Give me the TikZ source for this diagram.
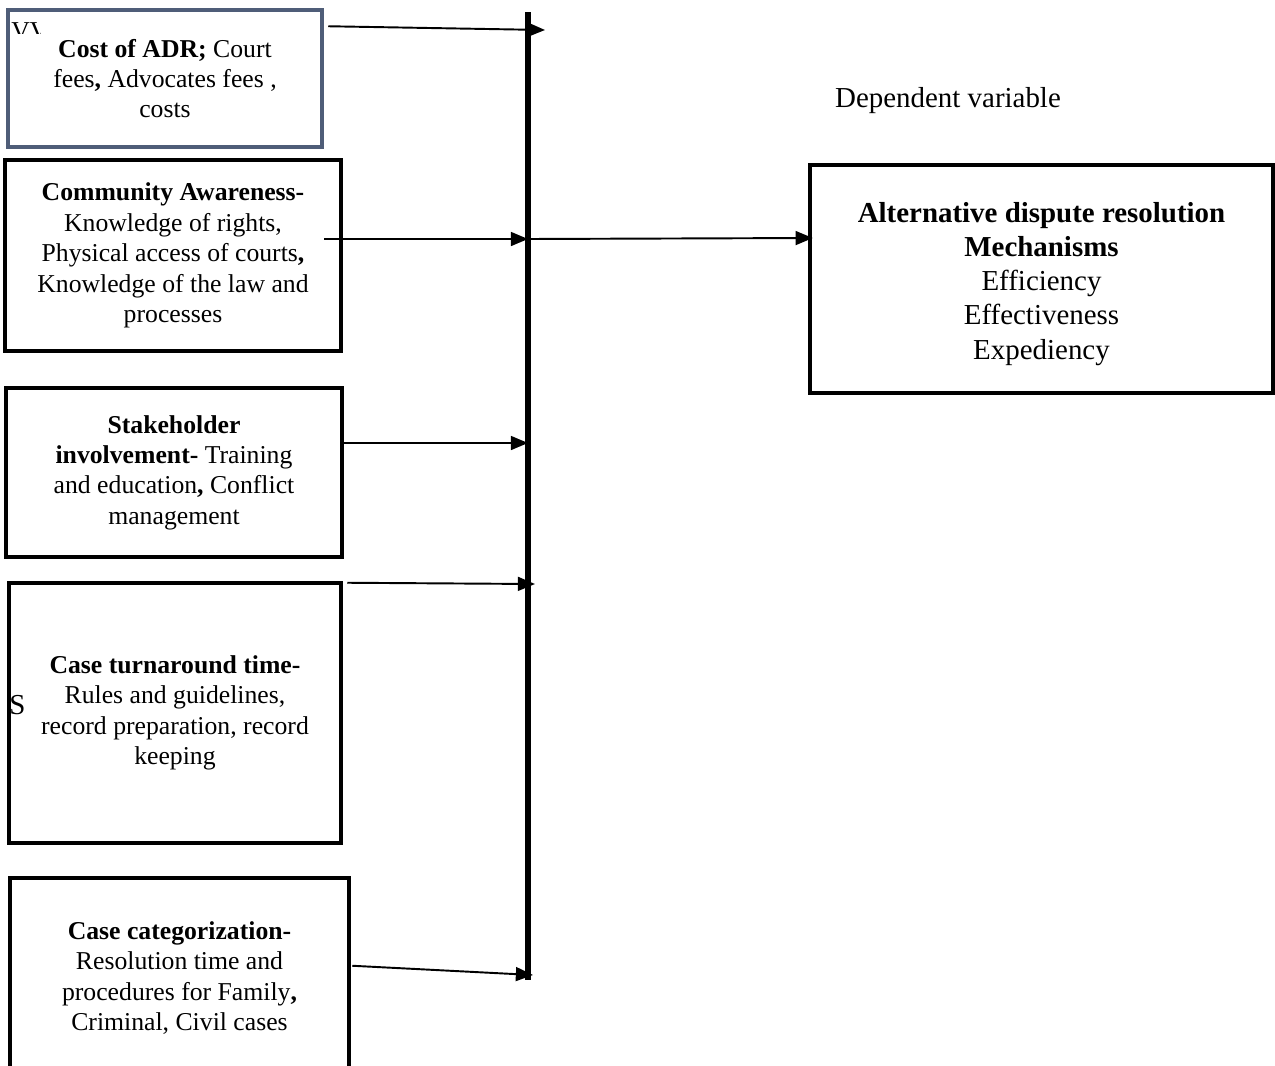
\documentclass[tikz,border=0pt]{standalone}
\usepackage{fontspec}
\setmainfont{Liberation Serif}
\usetikzlibrary{arrows.meta,calc}
\definecolor{costframe}{RGB}{79,93,120}
\tikzset{
  varbox/.style={draw,line width=2.1pt,align=center,inner sep=0pt,
    font=\fontsize{12}{14.2}\selectfont},
  link/.style={line width=0.9pt,-{Triangle[length=8pt,width=6.5pt]}},
}

\begin{document}
\begin{tikzpicture}[x=0.4667pt,y=-0.4667pt]
  \useasboundingbox (0,0) rectangle (1275,1066);
  % cut-off text fragments
  \begin{scope}
    \clip (8,20) rectangle (40,33);
    \node[anchor=base west,inner sep=0pt,font=\fontsize{12}{14.2}\selectfont] at (11,39) {VV};
  \end{scope}
  \begin{scope}
    \clip (8,680) rectangle (24,720);
    \node[anchor=base west,inner sep=0pt,font=\fontsize{13.5}{16}\selectfont] at (9,714) {Se};
  \end{scope}
  % independent variables
  \node[varbox,draw=costframe,minimum width=314*0.4667pt,minimum height=137*0.4667pt] (cost) at (165,78.5)
    {\textbf{Cost of ADR;} Court\\ fees\textbf{,} Advocates fees ,\\ costs};
  \node[varbox,minimum width=336*0.4667pt,minimum height=191*0.4667pt] (aware) at (173,255.5)
    {\textbf{Community Awareness-}\\ Knowledge of rights,\\ Physical access of courts\textbf{,}\\ Knowledge of the law and\\ processes};
  \node[varbox,minimum width=336*0.4667pt,minimum height=169*0.4667pt] (stake) at (174,472.5)
    {\textbf{Stakeholder}\\ \textbf{involvement-} Training\\ and education\textbf{,} Conflict\\ management};
  \node[varbox,minimum width=332*0.4667pt,minimum height=260*0.4667pt] (turn) at (175,713)
    {\textbf{Case turnaround time-}\\ Rules and guidelines,\\ record preparation, record\\ keeping};
  \node[varbox,minimum width=339*0.4667pt,minimum height=200*0.4667pt] (categ) at (179.5,978)
    {\textbf{Case categorization-}\\ Resolution time and\\ procedures for Family\textbf{,}\\ Criminal, Civil cases};
  % dependent variable
  \node[font=\fontsize{13.5}{16}\selectfont] (deplabel) at (948,101) {Dependent variable};
  \node[varbox,minimum width=463*0.4667pt,minimum height=228*0.4667pt] (adr) at (1041.5,279) {};
  \node[align=center,font=\fontsize{13.5}{15.9}\selectfont] (adrtext) at ($(adr.center)+(0,5)$)
    {\textbf{Alternative dispute resolution}\\ \textbf{Mechanisms}\\ Efficiency\\ Effectiveness\\ Expediency};
  % collecting bar
  \coordinate (bartop) at (528,12);
  \coordinate (barbot) at (528,980);
  \draw[line width=2.7pt] (bartop) -- (barbot);
  \coordinate (in1) at (545,30);
  \coordinate (in2) at (528,239);
  \coordinate (in3) at (528,443);
  \coordinate (in4) at (535,584);
  \coordinate (in5) at (533,975);
  \draw[link] ($(cost.north east)+(4,18.5)$) -- (in1);
  \draw[link] ($(aware.east)+(-19,-16.5)$) -- (in2);
  \draw[link] ($(stake.east)+(-4,-29.5)$) -- (in3);
  \draw[link] ($(turn.north east)+(4,2)$) -- (in4);
  \draw[link] ($(categ.north east)+(1,90)$) -- (in5);
  \draw[link] (in2) -- ($(adr.west)+(5,-41)$);
\end{tikzpicture}
\end{document}
